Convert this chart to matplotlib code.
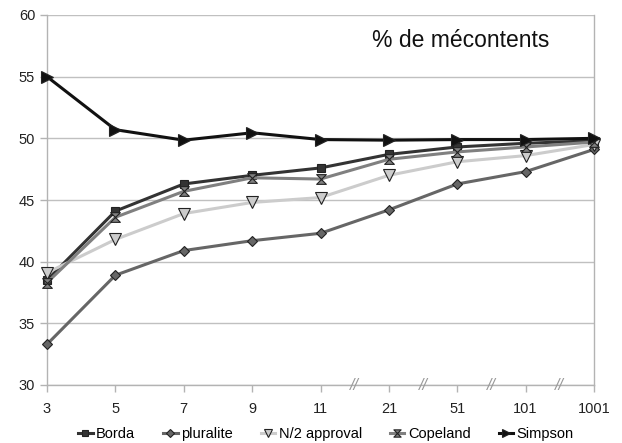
import matplotlib
matplotlib.use("Agg")
import matplotlib.pyplot as plt
from matplotlib.path import Path
import numpy as np

plt.rcParams['font.family'] = ['Liberation Sans', 'DejaVu Sans']

categories = ["3", "5", "7", "9", "11", "21", "51", "101", "1001"]
borda = [38.5, 44.1, 46.3, 47.0, 47.6, 48.7, 49.3, 49.6, 49.8]
pluralite = [33.3, 38.9, 40.9, 41.7, 42.3, 44.2, 46.3, 47.3, 49.1]
approval = [39.1, 41.8, 43.9, 44.8, 45.2, 47.0, 48.1, 48.6, 49.5]
copeland = [38.3, 43.6, 45.7, 46.8, 46.7, 48.3, 48.9, 49.3, 49.7]
simpson = [55.0, 50.7, 49.85, 50.45, 49.9, 49.85, 49.9, 49.9, 50.0]
yticks = [30, 35, 40, 45, 50, 55, 60]

hourglass = Path([(-1, 1), (1, 1), (-1, -1), (1, -1), (-1, 1)],
                 [Path.MOVETO, Path.LINETO, Path.LINETO, Path.LINETO, Path.CLOSEPOLY])

fig = plt.figure(figsize=(6.22, 4.43), dpi=100)
ax = fig.add_axes([47/622, 1-385/443, (594-47)/622, 370/443])

x = np.arange(len(categories))
series = [
    ("Borda", borda, "#333333", "s", "#333333", 6),
    ("pluralite", pluralite, "#666666", "D", "#666666", 5.5),
    ("N/2 approval", approval, "#cccccc", "v", "#cccccc", 8),
    ("Copeland", copeland, "#808080", hourglass, "#808080", 7),
    ("Simpson", simpson, "#111111", ">", "#111111", 8),
]
handles = []
for name, vals, col, mk, mfc, ms in series:
    h, = ax.plot(x, vals, color=col, lw=2.2, marker=mk, markersize=ms,
                 markerfacecolor=mfc, markeredgecolor="#222222", markeredgewidth=0.8,
                 clip_on=False, zorder=3, label=name)
    handles.append(h)

ax.set_xlim(0, 8)
ax.set_ylim(30, 60)
ax.set_yticks(yticks)
ax.set_xticks(x)
ax.set_xticklabels(categories)
ax.grid(axis='y', color='#c0c0c0', lw=1)
ax.set_axisbelow(True)
for s in ['left', 'bottom', 'right']:
    ax.spines[s].set_color('#b3b3b3')
    ax.spines[s].set_linewidth(1)
ax.spines['top'].set_visible(False)
ax.tick_params(axis='both', colors='#b3b3b3', labelcolor='#222222', labelsize=10.5, length=5, width=1)
ax.tick_params(axis='x', pad=7)

for i in range(4, 8):
    ax.text(i + 0.5, 30, '//', ha='center', va='center', color='#999999',
            fontsize=11.5, style='italic', clip_on=False)

ax.text(0.757, 0.932, '% de mécontents', transform=ax.transAxes, ha='center', va='center',
        fontsize=16.5, color='#111111')

fig.legend(handles=handles, loc='lower center', bbox_to_anchor=(0.524, -0.025), ncol=5,
           frameon=False, fontsize=10.5, handlelength=1.0, handletextpad=0.25,
           columnspacing=1.9, markerscale=0.75)

fig.savefig("out.png", dpi=100)
